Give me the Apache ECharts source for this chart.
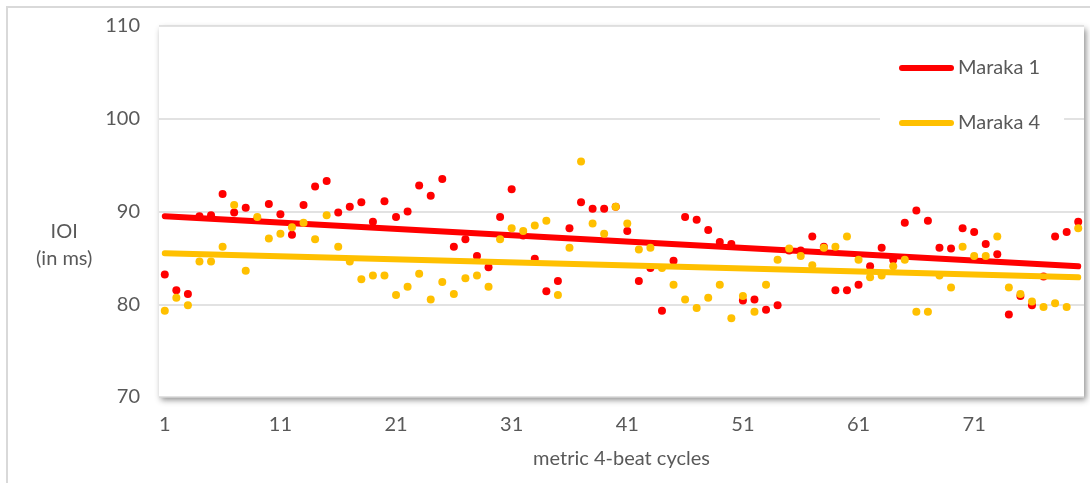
<!DOCTYPE html>
<html>
<head>
<meta charset="utf-8">
<script src="https://cdn.jsdelivr.net/npm/echarts@6/dist/echarts.min.js"></script>
<style>
html,body{margin:0;padding:0;background:#fff;}
#chart{width:1090px;height:483px;}
</style>
</head>
<body>
<div id="chart"></div>
<script>
var cycles = [];
for (var c = 1; c <= 80; c++) cycles.push(String(c));

var maraka1 = [
  83.2, 81.5, 81.1, 89.5, 89.6, 91.9, 89.9, 90.4, 89.2, 90.8,
  89.7, 87.5, 90.7, 92.7, 93.3, 89.9, 90.5, 91.0, 88.9, 91.1,
  89.4, 90.0, 92.8, 91.7, 93.5, 86.2, 87.0, 85.2, 84.0, 89.4,
  92.4, 87.4, 84.9, 81.4, 82.5, 88.2, 91.0, 90.3, 90.3, 90.5,
  87.9, 82.5, 83.9, 79.3, 84.7, 89.4, 89.1, 88.0, 86.7, 86.5,
  80.4, 80.5, 79.4, 79.9, 85.8, 85.8, 87.3, 86.2, 81.5, 81.5,
  82.1, 84.1, 86.1, 84.8, 88.8, 90.1, 89.0, 86.1, 86.0, 88.2,
  87.8, 86.5, 85.4, 78.9, 80.9, 79.9, 83.0, 87.3, 87.8, 88.9
];
var maraka4 = [
  79.3, 80.7, 79.9, 84.6, 84.6, 86.2, 90.7, 83.6, 89.4, 87.1,
  87.6, 88.3, 88.8, 87.0, 89.6, 86.2, 84.6, 82.7, 83.1, 83.1,
  81.0, 81.9, 83.3, 80.5, 82.4, 81.1, 82.8, 83.1, 81.9, 87.0,
  88.2, 87.9, 88.5, 89.0, 81.0, 86.1, 95.4, 88.7, 87.6, 90.5,
  88.7, 85.9, 86.1, 83.9, 82.1, 80.5, 79.6, 80.7, 82.1, 78.5,
  80.9, 79.2, 82.1, 84.8, 86.0, 85.2, 84.2, 86.1, 86.2, 87.3,
  84.8, 82.9, 83.1, 84.1, 84.8, 79.2, 79.2, 83.1, 81.8, 86.2,
  85.2, 85.2, 87.3, 81.8, 81.1, 80.3, 79.7, 80.1, 79.7, 88.2
];
var trendX = ['1', '80'];
var trend1 = [89.5, 84.1];
var trend4 = [85.5, 82.9];
var seriesNames = ['Maraka 1', 'Maraka 4'];
var yTicks = [70, 80, 90, 100, 110];

var RED = '#FF0000', GOLD = '#FFC000', TXT = '#595959', FONT = 'Lato';

function pairs(xs, ys) { return xs.map(function (x, i) { return [x, ys[i]]; }); }

var chart = echarts.init(document.getElementById('chart'), null, {renderer: 'canvas'});
chart.setOption({
  animation: false,
  backgroundColor: '#fff',
  textStyle: {fontFamily: FONT},
  grid: {
    left: 159, right: 6, top: 26, bottom: 86,
    show: true, backgroundColor: '#fff', borderWidth: 0,
    shadowColor: 'rgba(0,0,0,0.45)', shadowBlur: 6, shadowOffsetX: 2, shadowOffsetY: 3
  },
  legend: {
    data: seriesNames,
    orient: 'vertical',
    left: 880, top: 36,
    padding: [22, 24, 22, 19],
    backgroundColor: '#fff',
    itemWidth: 55, itemHeight: 6, itemGap: 35,
    icon: 'path://M3,0 L52,0 A3,3 0 0 1 52,6 L3,6 A3,3 0 0 1 3,0 Z',
    textStyle: {fontFamily: FONT, fontSize: 20, color: TXT, padding: [0, 0, 0, -1]}
  },
  xAxis: {
    type: 'category',
    data: cycles,
    boundaryGap: true,
    axisLine: {show: false},
    axisTick: {show: false},
    splitLine: {show: false},
    axisLabel: {interval: 9, color: TXT, fontSize: 20, fontFamily: FONT, margin: 18},
    name: 'metric 4-beat cycles',
    nameLocation: 'middle',
    nameGap: 52,
    nameTextStyle: {color: TXT, fontSize: 20, fontFamily: FONT}
  },
  yAxis: {
    type: 'value',
    min: yTicks[0], max: yTicks[yTicks.length - 1], interval: 10,
    axisLine: {show: false},
    axisTick: {show: false},
    axisLabel: {color: TXT, fontSize: 20, fontFamily: FONT, margin: 19},
    splitLine: {lineStyle: {color: '#d9d9d9', width: 1.5}}
  },
  graphic: [
    {type: 'rect', silent: true, z: -10,
     shape: {x: 7, y: 7, width: 1100, height: 500},
     style: {fill: 'none', stroke: '#d9d9d9', lineWidth: 2}},
    {type: 'text', left: 36, top: 218, z: 10,
     style: {text: 'IOI\n(in ms)', fill: TXT, font: '20px Lato', textAlign: 'center', lineHeight: 27, x: 25}}
  ],
  series: [
    {name: 'Maraka 1 data', type: 'scatter', data: maraka1, symbolSize: 8,
     itemStyle: {color: RED, opacity: 1}, z: 2},
    {name: seriesNames[0], type: 'line', data: pairs(trendX, trend1), symbol: 'none',
     color: RED, lineStyle: {color: RED, width: 6, cap: 'round'}, z: 3},
    {name: 'Maraka 4 data', type: 'scatter', data: maraka4, symbolSize: 8,
     itemStyle: {color: GOLD, opacity: 1}, z: 4},
    {name: seriesNames[1], type: 'line', data: pairs(trendX, trend4), symbol: 'none',
     color: GOLD, lineStyle: {color: GOLD, width: 6, cap: 'round'}, z: 5}
  ]
});
</script>
</body>
</html>
